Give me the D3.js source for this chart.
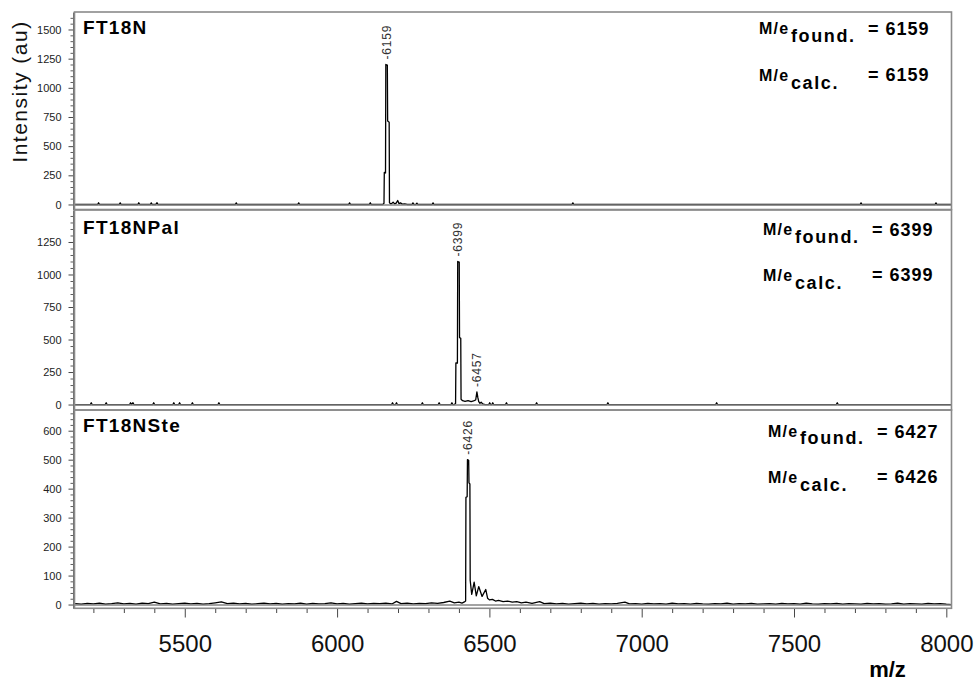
<!DOCTYPE html>
<html>
<head>
<meta charset="utf-8">
<script src="https://cdn.jsdelivr.net/npm/d3@7"></script>
<style>
  body { margin: 0; background: #fff; }
  svg { display: block; font-family: "Liberation Sans", Arial, sans-serif; }
</style>
</head>
<body>
<script>
// sample names and mass annotations
const sampleNames = ["FT18N", "FT18NPal", "FT18NSte"];
const foundMz = ["6159", "6399", "6427"];
const calcMz = ["6159", "6399", "6426"];
const peakLabels = [[6159], [6399, 6457], [6426]];

const xTicks = [5500, 6000, 6500, 7000, 7500, 8000];
const yTicks1 = [0, 250, 500, 750, 1000, 1250, 1500];
const yTicks2 = [0, 250, 500, 750, 1000, 1250];
const yTicks3 = [0, 100, 200, 300, 400, 500, 600];

// FT18N spectrum (m/z, intensity)
const mz1 = [5138, 5214, 5217, 5220, 5285, 5288, 5291, 5346, 5349, 5352, 5387, 5390, 5393, 5405, 5409, 5412,
  5666, 5669, 5672, 5871, 5874, 5877, 6038, 6041, 6044, 6106, 6109, 6112,
  6150, 6154, 6155, 6159, 6160, 6165, 6166, 6171, 6172, 6176, 6180, 6184, 6189, 6194, 6199, 6203, 6208, 6214, 6222, 6230,
  6246, 6249, 6252, 6259, 6262, 6265, 6312, 6315, 6318, 6771, 6774, 6777, 7717, 7720, 7723, 7963, 7966, 7969, 8017];
const int1 = [0, 0, 15, 0, 0, 14, 0, 0, 15, 0, 0, 14, 0, 0, 15, 0,
  0, 14, 0, 0, 14, 0, 0, 14, 0, 0, 15, 0,
  0, 10, 275, 270, 1200, 1195, 715, 705, 15, 5, 10, 20, 5, 12, 34, 8, 14, 3, 6, 0,
  0, 14, 0, 0, 12, 0, 0, 14, 0, 0, 14, 0, 0, 14, 0, 0, 14, 0, 0];

// FT18NPal spectrum
const mz2 = [5138, 5190, 5193, 5196, 5239, 5242, 5245, 5319, 5322, 5325, 5330, 5333, 5395, 5398, 5401,
  5461, 5464, 5467, 5480, 5483, 5486, 5522, 5525, 5528, 5609, 5612, 5615, 6179, 6182, 6185, 6192, 6195, 6198,
  6277, 6280, 6283, 6332, 6335, 6338, 6374, 6377, 6380,
  6385, 6389, 6390, 6395, 6396, 6401, 6402, 6406, 6407, 6412, 6420, 6430, 6440, 6448, 6455, 6459, 6462, 6465, 6469, 6473, 6478, 6486,
  6498, 6501, 6504, 6508, 6511, 6514, 6553, 6556, 6559, 6652, 6655, 6658, 6886, 6889, 6892,
  7243, 7246, 7249, 7639, 7642, 7645, 8017];
const int2 = [0, 0, 14, 0, 0, 14, 0, 0, 14, 0, 14, 0, 0, 14, 0,
  0, 14, 0, 0, 14, 0, 0, 14, 0, 0, 14, 0, 0, 14, 0, 0, 14, 0,
  0, 14, 0, 0, 14, 0, 0, 14, 0,
  0, 8, 320, 318, 1100, 1095, 515, 510, 40, 30, 25, 30, 22, 28, 35, 97, 55, 22, 10, 18, 5, 0,
  0, 14, 0, 0, 14, 0, 0, 14, 0, 0, 14, 0, 0, 14, 0,
  0, 14, 0, 0, 14, 0, 0];

// FT18NSte spectrum
const mz3 = [5140, 5160, 5180, 5200, 5220, 5240, 5260, 5280, 5300, 5320, 5340, 5360, 5380, 5400, 5420, 5440,
  5460, 5480, 5500, 5520, 5540, 5560, 5580, 5600, 5620, 5640, 5660, 5680, 5700, 5720, 5740, 5760,
  5780, 5800, 5820, 5840, 5860, 5880, 5900, 5920, 5940, 5960, 5980, 6000, 6020, 6040, 6060, 6080,
  6100, 6120, 6140, 6160, 6180, 6195, 6210, 6230, 6250, 6270, 6290, 6310, 6330, 6350, 6370, 6385,
  6400, 6410, 6418, 6422, 6423, 6427, 6428, 6432, 6433, 6436, 6437, 6442, 6450, 6457, 6465, 6476,
  6488, 6494, 6500, 6510, 6520, 6530, 6545, 6560, 6575, 6590, 6605, 6620, 6640, 6665, 6680, 6700,
  6720, 6740, 6760, 6780, 6800, 6820, 6840, 6860, 6880, 6900, 6920, 6945, 6960, 6980, 7000, 7020,
  7040, 7060, 7080, 7100, 7120, 7140, 7160, 7180, 7200, 7220, 7240, 7260, 7280, 7300, 7320, 7340,
  7360, 7380, 7400, 7420, 7440, 7460, 7480, 7500, 7520, 7540, 7560, 7580, 7600, 7620, 7640, 7660,
  7680, 7700, 7720, 7740, 7760, 7780, 7800, 7820, 7840, 7860, 7880, 7900, 7920, 7940, 7960, 7980, 8000, 8017];
const int3 = [3, 1, 4, 2, 5, 1, 3, 6, 2, 4, 1, 5, 3, 8, 2, 4,
  1, 3, 5, 2, 4, 1, 3, 6, 9, 3, 5, 2, 4, 1, 3, 5,
  2, 4, 1, 3, 2, 5, 1, 4, 2, 3, 6, 2, 4, 1, 3, 5,
  2, 4, 3, 5, 2, 11, 3, 5, 2, 4, 3, 6, 4, 7, 12, 6,
  8, 5, 9, 12, 370, 372, 500, 498, 420, 416, 83, 35, 77, 30, 62, 28,
  52, 22, 16, 18, 12, 14, 10, 12, 8, 10, 6, 8, 4, 10, 3, 5,
  2, 4, 1, 3, 5, 2, 4, 1, 3, 2, 4, 8, 2, 3, 1, 4,
  2, 3, 1, 5, 2, 3, 1, 4, 2, 1, 3, 2, 5, 1, 3, 2,
  4, 1, 2, 3, 1, 4, 2, 3, 1, 5, 2, 1, 3, 2, 4, 1,
  3, 2, 1, 4, 2, 3, 1, 2, 5, 1, 3, 2, 1, 4, 2, 3, 1, 0];

const spectra = [
  mz1.map((m, i) => [m, int1[i]]),
  mz2.map((m, i) => [m, int2[i]]),
  mz3.map((m, i) => [m, int3[i]])
];

const W = 974, H = 683;
const svg = d3.select("body").append("svg").attr("width", W).attr("height", H);

const x = d3.scaleLinear().domain([5138, 8017]).range([74.5, 951.5]);

const panels = [
  { top: 12, bottom: 209.5, dom: [-43, 1650], ticks: yTicks1, minor: 50, titleDy: 22.3, annDy: 22.3, annX: 759, eqX: 868 },
  { top: 210, bottom: 410, dom: [-42, 1496], ticks: yTicks2, minor: 50, titleDy: 24.3, annDy: 25, annX: 763, eqX: 872 },
  { top: 410, bottom: 608.3, dom: [-13, 671.5], ticks: yTicks3, minor: 20, titleDy: 21.7, annDy: 26.7, annX: 768, eqX: 877 }
];

panels.forEach((p, k) => {
  const y = d3.scaleLinear().domain(p.dom).range([p.bottom, p.top]);
  const g = svg.append("g");

  // minor y ticks
  const minorVals = d3.range(0, p.dom[1], p.minor).filter(v => !p.ticks.includes(v));
  g.append("g")
    .attr("transform", "translate(73,0)")
    .call(d3.axisLeft(y).tickValues(minorVals).tickSize(2.5).tickSizeOuter(0).tickFormat(""))
    .call(a => a.select(".domain").attr("stroke", "#444").attr("stroke-width", 0.8))
    .call(a => a.selectAll(".tick line").attr("stroke", "#333").attr("stroke-width", 0.8));

  // major y ticks
  g.append("g")
    .attr("transform", "translate(73,0)")
    .call(d3.axisLeft(y).tickValues(p.ticks).tickSize(4.5).tickPadding(7).tickSizeOuter(0).tickFormat(d3.format("d")))
    .call(a => a.select(".domain").remove())
    .call(a => a.selectAll(".tick line").attr("stroke", "#333").attr("stroke-width", 0.9))
    .call(a => a.selectAll(".tick text")
      .attr("font-size", 11).attr("fill", "#222")
      .attr("font-family", "'Liberation Sans', Arial, sans-serif"));

  // spectrum
  g.append("path")
    .datum(spectra[k])
    .attr("fill", "none")
    .attr("stroke", "#000")
    .attr("stroke-width", 1.3)
    .attr("stroke-linejoin", "round")
    .attr("d", d3.line().x(d => x(d[0])).y(d => y(d[1])));

  // zero line
  g.append("line")
    .attr("x1", x.range()[0]).attr("x2", x.range()[1])
    .attr("y1", y(0) + 0.5).attr("y2", y(0) + 0.5)
    .attr("stroke", "#858585").attr("stroke-width", 1.4);

  // frame
  g.append("rect")
    .attr("x", x.range()[0]).attr("y", p.top)
    .attr("width", x.range()[1] - x.range()[0])
    .attr("height", p.bottom - p.top)
    .attr("fill", "none")
    .attr("stroke", "#8a8a8a")
    .attr("stroke-width", 1.6);

  // peak labels
  peakLabels[k].forEach(L => {
    const near = spectra[k].filter(d => Math.abs(d[0] - L) <= 12);
    const mx = d3.max(near, d => d[1]);
    const top = near.filter(d => d[1] >= 0.95 * mx);
    const px = x(d3.mean(top, d => d[0]));
    const py = y(mx) - 5;
    g.append("text")
      .attr("transform", `translate(${px + 4},${py}) rotate(-90)`)
      .attr("font-size", 12)
      .attr("letter-spacing", 0.8)
      .attr("fill", "#333")
      .text("-" + L);
  });

  // sample name
  g.append("text")
    .attr("x", 83).attr("y", p.top + p.titleDy)
    .attr("font-size", 19).attr("font-weight", "bold")
    .attr("letter-spacing", 1.3)
    .text(sampleNames[k]);

  // M/e annotations
  const b1 = p.top + p.annDy, b2 = b1 + 46.3;
  const rows = [
    { base: b1, sub: "found.", subDy: 7.7, val: foundMz[k], valDy: 1 },
    { base: b2, sub: "calc.", subDy: 8, val: calcMz[k], valDy: 0 }
  ];
  rows.forEach(r => {
    g.append("text").attr("x", p.annX).attr("y", r.base)
      .attr("font-size", 16).attr("font-weight", "bold").attr("letter-spacing", 1.2)
      .text("M/e");
    g.append("text").attr("x", p.annX + 32).attr("y", r.base + r.subDy)
      .attr("font-size", 18).attr("font-weight", "bold").attr("letter-spacing", 1.6)
      .text(r.sub);
    g.append("text").attr("x", p.eqX).attr("y", r.base + r.valDy)
      .attr("font-size", 18).attr("font-weight", "bold").attr("letter-spacing", 1)
      .text("= " + r.val);
  });
});

// x axis below the last panel
const xAxisY = panels[2].bottom + 0.7;
const minorX = d3.range(5200, 8017, 100).filter(v => !xTicks.includes(v));
svg.append("g")
  .attr("transform", `translate(0,${xAxisY})`)
  .call(d3.axisBottom(x).tickValues(minorX).tickSize(4).tickFormat(""))
  .call(a => a.select(".domain").remove())
  .call(a => a.selectAll(".tick line").attr("stroke", "#333").attr("stroke-width", 0.9));

svg.append("g")
  .attr("transform", `translate(0,${xAxisY})`)
  .call(d3.axisBottom(x).tickValues(xTicks).tickSize(8.5).tickFormat(d3.format("d")))
  .call(a => a.select(".domain").remove())
  .call(a => a.selectAll(".tick line").attr("stroke", "#333").attr("stroke-width", 0.9))
  .call(a => a.selectAll(".tick text")
    .attr("y", 43).attr("dy", 0)
    .attr("font-size", 24).attr("fill", "#111")
    .attr("font-family", "'Liberation Sans', Arial, sans-serif"));

// axis titles
svg.append("text")
  .attr("transform", "translate(26.5,91.5) rotate(-90)")
  .attr("text-anchor", "middle")
  .attr("font-size", 21)
  .attr("letter-spacing", 1.5)
  .attr("fill", "#111")
  .text("Intensity (au)");

svg.append("text")
  .attr("x", 887.5).attr("y", 677)
  .attr("text-anchor", "middle")
  .attr("font-size", 22).attr("font-weight", "bold")
  .text("m/z");
</script>
</body>
</html>
